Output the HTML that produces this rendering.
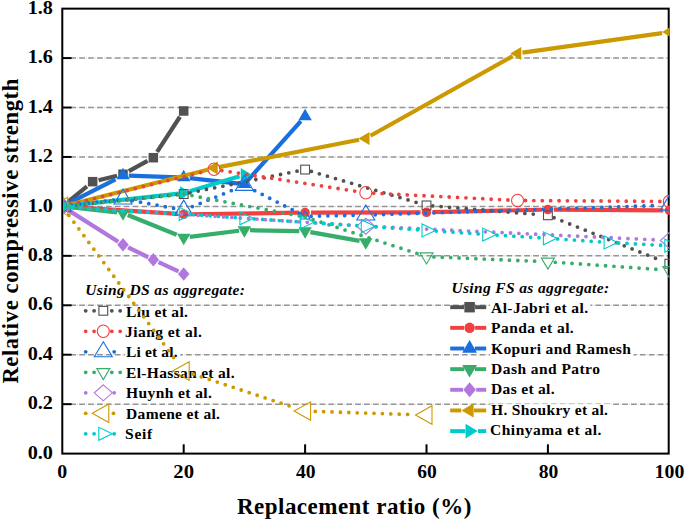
<!DOCTYPE html>
<html><head><meta charset="utf-8"><style>
html,body{margin:0;padding:0;background:#fff;width:685px;height:520px;overflow:hidden}
svg{display:block}
text{font-family:"Liberation Serif",serif;font-weight:bold;fill:#000}
</style></head><body>
<svg width="685" height="520" viewBox="0 0 685 520">
<defs><clipPath id="pc"><rect x="63.3" y="0" width="606.4" height="452.6"/></clipPath></defs>
<line x1="70.30" y1="404.16" x2="668.70" y2="404.16" stroke="#949494" stroke-width="1.45" stroke-dasharray="5.8 1.4 0.3 1.4"/>
<line x1="70.30" y1="354.72" x2="668.70" y2="354.72" stroke="#949494" stroke-width="1.45" stroke-dasharray="5.8 1.4 0.3 1.4"/>
<line x1="70.30" y1="305.28" x2="668.70" y2="305.28" stroke="#949494" stroke-width="1.45" stroke-dasharray="5.8 1.4 0.3 1.4"/>
<line x1="70.30" y1="255.84" x2="668.70" y2="255.84" stroke="#949494" stroke-width="1.45" stroke-dasharray="5.8 1.4 0.3 1.4"/>
<line x1="70.30" y1="206.40" x2="668.70" y2="206.40" stroke="#949494" stroke-width="1.45" stroke-dasharray="5.8 1.4 0.3 1.4"/>
<line x1="70.30" y1="156.96" x2="668.70" y2="156.96" stroke="#949494" stroke-width="1.45" stroke-dasharray="5.8 1.4 0.3 1.4"/>
<line x1="70.30" y1="107.52" x2="668.70" y2="107.52" stroke="#949494" stroke-width="1.45" stroke-dasharray="5.8 1.4 0.3 1.4"/>
<line x1="70.30" y1="58.08" x2="668.70" y2="58.08" stroke="#949494" stroke-width="1.45" stroke-dasharray="5.8 1.4 0.3 1.4"/>
<line x1="62.30" y1="404.16" x2="71.60" y2="404.16" stroke="#000" stroke-width="2"/>
<line x1="62.30" y1="354.72" x2="71.60" y2="354.72" stroke="#000" stroke-width="2"/>
<line x1="62.30" y1="305.28" x2="71.60" y2="305.28" stroke="#000" stroke-width="2"/>
<line x1="62.30" y1="255.84" x2="71.60" y2="255.84" stroke="#000" stroke-width="2"/>
<line x1="62.30" y1="206.40" x2="71.60" y2="206.40" stroke="#000" stroke-width="2"/>
<line x1="62.30" y1="156.96" x2="71.60" y2="156.96" stroke="#000" stroke-width="2"/>
<line x1="62.30" y1="107.52" x2="71.60" y2="107.52" stroke="#000" stroke-width="2"/>
<line x1="62.30" y1="58.08" x2="71.60" y2="58.08" stroke="#000" stroke-width="2"/>
<line x1="183.70" y1="453.60" x2="183.70" y2="444.30" stroke="#000" stroke-width="2"/>
<line x1="305.10" y1="453.60" x2="305.10" y2="444.30" stroke="#000" stroke-width="2"/>
<line x1="426.50" y1="453.60" x2="426.50" y2="444.30" stroke="#000" stroke-width="2"/>
<line x1="547.90" y1="453.60" x2="547.90" y2="444.30" stroke="#000" stroke-width="2"/>
<rect x="125.10" y="305.90" width="64.80" height="14.8" fill="#fff"/>
<rect x="125.10" y="326.30" width="78.80" height="14.8" fill="#fff"/>
<rect x="125.10" y="346.40" width="55.10" height="14.8" fill="#fff"/>
<rect x="125.10" y="366.70" width="111.70" height="14.8" fill="#fff"/>
<rect x="125.10" y="387.40" width="89.40" height="14.8" fill="#fff"/>
<rect x="125.10" y="407.70" width="96.90" height="14.8" fill="#fff"/>
<rect x="125.10" y="427.80" width="30.00" height="14.8" fill="#fff"/>
<rect x="490.10" y="302.30" width="100.20" height="14.8" fill="#fff"/>
<rect x="490.10" y="322.40" width="85.70" height="14.8" fill="#fff"/>
<rect x="490.10" y="343.30" width="143.40" height="14.8" fill="#fff"/>
<rect x="490.10" y="363.10" width="112.70" height="14.8" fill="#fff"/>
<rect x="490.10" y="383.20" width="66.80" height="14.8" fill="#fff"/>
<rect x="490.10" y="404.10" width="120.50" height="14.8" fill="#fff"/>
<rect x="490.10" y="424.10" width="113.60" height="14.8" fill="#fff"/>
<text x="85.20" y="295.40" font-size="15.5" font-style="italic" textLength="159.74" lengthAdjust="spacing">Using DS as aggregate:</text>
<text x="451.40" y="292.90" font-size="15.5" font-style="italic" textLength="157.78" lengthAdjust="spacing">Using FS as aggregate:</text>
<text x="126.10" y="316.70" font-size="15.5" textLength="61.80" lengthAdjust="spacing">Liu et al.</text>
<text x="125.10" y="337.10" font-size="15.5" textLength="76.71" lengthAdjust="spacing">Jiang et al.</text>
<text x="126.10" y="357.20" font-size="15.5" textLength="51.47" lengthAdjust="spacing">Li et al.</text>
<text x="126.10" y="377.50" font-size="15.5" textLength="108.48" lengthAdjust="spacing">El-Hassan et al.</text>
<text x="126.10" y="398.20" font-size="15.5" textLength="85.79" lengthAdjust="spacing">Huynh et al.</text>
<text x="126.10" y="418.50" font-size="15.5" textLength="93.87" lengthAdjust="spacing">Damene et al.</text>
<text x="125.10" y="438.60" font-size="15.5" textLength="26.97" lengthAdjust="spacing">Seif</text>
<text x="491.10" y="313.10" font-size="15.5" textLength="96.90" lengthAdjust="spacing">Al-Jabri et al.</text>
<text x="491.10" y="333.20" font-size="15.5" textLength="82.64" lengthAdjust="spacing">Panda et al.</text>
<text x="491.10" y="354.10" font-size="15.5" textLength="139.77" lengthAdjust="spacing">Kopuri and Ramesh</text>
<text x="491.10" y="373.90" font-size="15.5" textLength="108.78" lengthAdjust="spacing">Dash and Patro</text>
<text x="491.10" y="394.00" font-size="15.5" textLength="63.50" lengthAdjust="spacing">Das et al.</text>
<text x="491.10" y="414.90" font-size="15.5" textLength="116.89" lengthAdjust="spacing">H. Shoukry et al.</text>
<text x="490.10" y="434.90" font-size="15.5" textLength="111.23" lengthAdjust="spacing">Chinyama et al.</text>
<rect x="62.30" y="8.64" width="606.40" height="444.96" fill="none" stroke="#000" stroke-width="2"/>
<g clip-path="url(#pc)">
<line x1="67.98" y1="201.77" x2="86.97" y2="186.31" stroke="#515151" stroke-width="4.2"/>
<line x1="98.57" y1="180.23" x2="117.08" y2="175.71" stroke="#515151" stroke-width="4.2"/>
<line x1="128.80" y1="171.10" x2="147.55" y2="160.87" stroke="#515151" stroke-width="4.2"/>
<line x1="157.09" y1="151.95" x2="179.96" y2="116.74" stroke="#515151" stroke-width="4.2"/>
<rect x="57.55" y="201.65" width="9.50" height="9.50" fill="#515151"/>
<rect x="87.90" y="176.93" width="9.50" height="9.50" fill="#515151"/>
<rect x="118.25" y="169.51" width="9.50" height="9.50" fill="#515151"/>
<rect x="148.60" y="152.95" width="9.50" height="9.50" fill="#515151"/>
<rect x="178.95" y="106.23" width="9.50" height="9.50" fill="#515151"/>
<line x1="68.24" y1="206.79" x2="177.76" y2="213.92" stroke="#F14040" stroke-width="4.2"/>
<line x1="189.65" y1="214.23" x2="299.15" y2="212.66" stroke="#F14040" stroke-width="4.2"/>
<line x1="311.05" y1="212.57" x2="420.55" y2="212.34" stroke="#F14040" stroke-width="4.2"/>
<line x1="432.45" y1="212.20" x2="541.95" y2="209.75" stroke="#F14040" stroke-width="4.2"/>
<line x1="553.85" y1="209.65" x2="663.35" y2="210.32" stroke="#F14040" stroke-width="4.2"/>
<ellipse cx="62.30" cy="206.40" rx="4.75" ry="4.75" fill="#F14040"/>
<ellipse cx="183.70" cy="214.31" rx="4.75" ry="4.75" fill="#F14040"/>
<ellipse cx="305.10" cy="212.58" rx="4.75" ry="4.75" fill="#F14040"/>
<ellipse cx="426.50" cy="212.33" rx="4.75" ry="4.75" fill="#F14040"/>
<ellipse cx="547.90" cy="209.61" rx="4.75" ry="4.75" fill="#F14040"/>
<ellipse cx="669.30" cy="210.36" rx="4.75" ry="4.75" fill="#F14040"/>
<line x1="66.83" y1="204.09" x2="115.51" y2="179.31" stroke="#1A6FDF" stroke-width="4.2"/>
<line x1="128.79" y1="175.69" x2="178.09" y2="177.29" stroke="#1A6FDF" stroke-width="4.2"/>
<line x1="189.70" y1="178.14" x2="238.98" y2="183.56" stroke="#1A6FDF" stroke-width="4.2"/>
<line x1="247.92" y1="180.22" x2="300.86" y2="121.15" stroke="#1A6FDF" stroke-width="4.2"/>
<path d="M62.30 198.73L69.05 210.23L55.55 210.23Z" fill="#1A6FDF"/>
<path d="M123.00 167.83L129.75 179.33L116.25 179.33Z" fill="#1A6FDF"/>
<path d="M183.70 169.81L190.45 181.31L176.95 181.31Z" fill="#1A6FDF"/>
<path d="M244.40 176.49L251.15 187.99L237.65 187.99Z" fill="#1A6FDF"/>
<path d="M305.10 108.75L311.85 120.25L298.35 120.25Z" fill="#1A6FDF"/>
<line x1="67.72" y1="207.00" x2="117.00" y2="212.41" stroke="#37AD6B" stroke-width="4.2"/>
<line x1="127.75" y1="214.99" x2="176.69" y2="234.72" stroke="#37AD6B" stroke-width="4.2"/>
<line x1="189.74" y1="236.81" x2="239.01" y2="230.79" stroke="#37AD6B" stroke-width="4.2"/>
<line x1="250.06" y1="230.22" x2="299.36" y2="231.03" stroke="#37AD6B" stroke-width="4.2"/>
<line x1="310.35" y1="232.06" x2="359.59" y2="240.88" stroke="#37AD6B" stroke-width="4.2"/>
<path d="M62.30 214.07L69.05 202.57L55.55 202.57Z" fill="#37AD6B"/>
<path d="M123.00 220.74L129.75 209.24L116.25 209.24Z" fill="#37AD6B"/>
<path d="M183.70 245.21L190.45 233.71L176.95 233.71Z" fill="#37AD6B"/>
<path d="M244.40 237.80L251.15 226.30L237.65 226.30Z" fill="#37AD6B"/>
<path d="M305.10 238.79L311.85 227.29L298.35 227.29Z" fill="#37AD6B"/>
<path d="M365.80 249.66L372.55 238.16L359.05 238.16Z" fill="#37AD6B"/>
<line x1="67.05" y1="209.40" x2="118.25" y2="241.72" stroke="#B177DE" stroke-width="4.2"/>
<line x1="128.11" y1="247.26" x2="148.24" y2="257.25" stroke="#B177DE" stroke-width="4.2"/>
<line x1="158.56" y1="262.21" x2="178.49" y2="271.47" stroke="#B177DE" stroke-width="4.2"/>
<path d="M62.30 199.65L68.05 206.40L62.30 213.15L56.55 206.40Z" fill="#B177DE"/>
<path d="M123.00 237.97L128.75 244.72L123.00 251.47L117.25 244.72Z" fill="#B177DE"/>
<path d="M153.35 253.05L159.10 259.80L153.35 266.55L147.60 259.80Z" fill="#B177DE"/>
<path d="M183.70 267.14L189.45 273.89L183.70 280.64L177.95 273.89Z" fill="#B177DE"/>
<line x1="67.13" y1="205.18" x2="207.75" y2="169.68" stroke="#CC9900" stroke-width="4.2"/>
<line x1="218.89" y1="167.14" x2="359.11" y2="139.73" stroke="#CC9900" stroke-width="4.2"/>
<line x1="370.51" y1="135.78" x2="512.74" y2="56.08" stroke="#CC9900" stroke-width="4.2"/>
<line x1="522.41" y1="52.70" x2="662.18" y2="33.12" stroke="#CC9900" stroke-width="4.2"/>
<path d="M54.97 206.40L65.97 199.90L65.97 212.90Z" fill="#CC9900"/>
<path d="M206.72 168.08L217.72 161.58L217.72 174.58Z" fill="#CC9900"/>
<path d="M358.47 138.42L369.47 131.92L369.47 144.92Z" fill="#CC9900"/>
<path d="M510.22 53.38L521.22 46.88L521.22 59.88Z" fill="#CC9900"/>
<path d="M661.97 32.12L672.97 25.62L672.97 38.62Z" fill="#CC9900"/>
<line x1="69.71" y1="205.59" x2="178.84" y2="193.59" stroke="#00CBCC" stroke-width="4.2"/>
<line x1="189.77" y1="191.22" x2="239.58" y2="176.21" stroke="#00CBCC" stroke-width="4.2"/>
<path d="M69.63 206.40L58.63 199.65L58.63 213.15Z" fill="#00CBCC"/>
<path d="M191.03 193.05L180.03 186.30L180.03 199.80Z" fill="#00CBCC"/>
<path d="M251.73 174.76L240.73 168.01L240.73 181.51Z" fill="#00CBCC"/>
<line x1="68.59" y1="205.76" x2="177.41" y2="194.68" stroke="#515151" stroke-width="3.8" stroke-linecap="round" stroke-dasharray="0 8.4"/>
<line x1="189.96" y1="192.78" x2="298.84" y2="170.83" stroke="#515151" stroke-width="3.8" stroke-linecap="round" stroke-dasharray="0 8.4"/>
<line x1="311.32" y1="171.40" x2="420.28" y2="203.57" stroke="#515151" stroke-width="3.8" stroke-linecap="round" stroke-dasharray="0 8.4"/>
<line x1="432.79" y1="205.92" x2="541.61" y2="214.79" stroke="#515151" stroke-width="3.8" stroke-linecap="round" stroke-dasharray="0 8.4"/>
<line x1="554.06" y1="217.76" x2="663.14" y2="261.29" stroke="#515151" stroke-width="3.8" stroke-linecap="round" stroke-dasharray="0 8.4"/>
<rect x="57.90" y="202.00" width="8.80" height="8.80" fill="none" stroke="#515151" stroke-width="1.1"/>
<rect x="179.30" y="189.64" width="8.80" height="8.80" fill="none" stroke="#515151" stroke-width="1.1"/>
<rect x="300.70" y="165.17" width="8.80" height="8.80" fill="none" stroke="#515151" stroke-width="1.1"/>
<rect x="422.10" y="201.01" width="8.80" height="8.80" fill="none" stroke="#515151" stroke-width="1.1"/>
<rect x="543.50" y="210.90" width="8.80" height="8.80" fill="none" stroke="#515151" stroke-width="1.1"/>
<rect x="664.90" y="259.35" width="8.80" height="8.80" fill="none" stroke="#515151" stroke-width="1.1"/>
<line x1="69.99" y1="204.52" x2="206.36" y2="171.20" stroke="#F14040" stroke-width="3.8" stroke-linecap="round" stroke-dasharray="0 8.4"/>
<line x1="221.86" y1="170.53" x2="357.99" y2="191.59" stroke="#F14040" stroke-width="3.8" stroke-linecap="round" stroke-dasharray="0 8.4"/>
<line x1="373.69" y1="193.20" x2="509.66" y2="200.07" stroke="#F14040" stroke-width="3.8" stroke-linecap="round" stroke-dasharray="0 8.4"/>
<line x1="525.45" y1="200.52" x2="661.40" y2="201.40" stroke="#F14040" stroke-width="3.8" stroke-linecap="round" stroke-dasharray="0 8.4"/>
<ellipse cx="62.30" cy="206.40" rx="6.00" ry="6.25" fill="none" stroke="#F14040" stroke-width="1.1"/>
<ellipse cx="214.05" cy="169.32" rx="6.00" ry="6.25" fill="none" stroke="#F14040" stroke-width="1.1"/>
<ellipse cx="365.80" cy="192.80" rx="6.00" ry="6.25" fill="none" stroke="#F14040" stroke-width="1.1"/>
<ellipse cx="517.55" cy="200.47" rx="6.00" ry="6.25" fill="none" stroke="#F14040" stroke-width="1.1"/>
<ellipse cx="669.30" cy="201.46" rx="6.00" ry="6.25" fill="none" stroke="#F14040" stroke-width="1.1"/>
<line x1="71.63" y1="205.26" x2="113.67" y2="200.12" stroke="#1A6FDF" stroke-width="3.8" stroke-linecap="round" stroke-dasharray="0 8.4"/>
<line x1="132.25" y1="200.68" x2="174.45" y2="208.41" stroke="#1A6FDF" stroke-width="3.8" stroke-linecap="round" stroke-dasharray="0 8.4"/>
<line x1="192.41" y1="206.56" x2="234.70" y2="189.34" stroke="#1A6FDF" stroke-width="3.8" stroke-linecap="round" stroke-dasharray="0 8.4"/>
<line x1="254.73" y1="190.65" x2="299.73" y2="213.55" stroke="#1A6FDF" stroke-width="3.8" stroke-linecap="round" stroke-dasharray="0 8.4"/>
<line x1="311.12" y1="216.17" x2="356.40" y2="215.24" stroke="#1A6FDF" stroke-width="3.8" stroke-linecap="round" stroke-dasharray="0 8.4"/>
<line x1="375.20" y1="214.75" x2="659.90" y2="205.47" stroke="#1A6FDF" stroke-width="3.8" stroke-linecap="round" stroke-dasharray="0 8.4"/>
<path d="M62.30 196.40L71.30 211.40L53.30 211.40Z" fill="none" stroke="#1A6FDF" stroke-width="1.1"/>
<path d="M123.00 188.98L132.00 203.98L114.00 203.98Z" fill="none" stroke="#1A6FDF" stroke-width="1.1"/>
<path d="M183.70 200.11L192.70 215.11L174.70 215.11Z" fill="none" stroke="#1A6FDF" stroke-width="1.1"/>
<path d="M244.40 175.39L253.40 190.39L235.40 190.39Z" fill="none" stroke="#1A6FDF" stroke-width="1.1"/>
<path d="M305.10 210.79L310.05 219.04L300.15 219.04Z" fill="none" stroke="#1A6FDF" stroke-width="1.1"/>
<path d="M365.80 205.05L374.80 220.05L356.80 220.05Z" fill="none" stroke="#1A6FDF" stroke-width="1.1"/>
<path d="M669.30 195.16L678.30 210.16L660.30 210.16Z" fill="none" stroke="#1A6FDF" stroke-width="1.1"/>
<line x1="69.66" y1="205.65" x2="183.70" y2="194.04" stroke="#37AD6B" stroke-width="3.8" stroke-linecap="round" stroke-dasharray="0 8.4"/>
<line x1="183.70" y1="194.04" x2="305.10" y2="217.03" stroke="#37AD6B" stroke-width="3.8" stroke-linecap="round" stroke-dasharray="0 8.4"/>
<line x1="305.10" y1="217.03" x2="419.33" y2="254.24" stroke="#37AD6B" stroke-width="3.8" stroke-linecap="round" stroke-dasharray="0 8.4"/>
<line x1="433.89" y1="256.90" x2="540.51" y2="261.46" stroke="#37AD6B" stroke-width="3.8" stroke-linecap="round" stroke-dasharray="0 8.4"/>
<line x1="555.28" y1="262.28" x2="661.92" y2="269.67" stroke="#37AD6B" stroke-width="3.8" stroke-linecap="round" stroke-dasharray="0 8.4"/>
<path d="M62.30 213.73L68.80 202.73L55.80 202.73Z" fill="none" stroke="#37AD6B" stroke-width="1.1"/>
<path d="M426.50 263.91L433.00 252.91L420.00 252.91Z" fill="none" stroke="#37AD6B" stroke-width="1.1"/>
<path d="M547.90 269.11L554.40 258.11L541.40 258.11Z" fill="none" stroke="#37AD6B" stroke-width="1.1"/>
<path d="M669.30 277.51L675.80 266.51L662.80 266.51Z" fill="none" stroke="#37AD6B" stroke-width="1.1"/>
<line x1="72.58" y1="207.07" x2="355.52" y2="225.51" stroke="#B177DE" stroke-width="3.8" stroke-linecap="round" stroke-dasharray="0 8.4"/>
<line x1="376.24" y1="226.67" x2="658.86" y2="240.02" stroke="#B177DE" stroke-width="3.8" stroke-linecap="round" stroke-dasharray="0 8.4"/>
<path d="M62.30 198.40L71.30 206.40L62.30 214.40L53.30 206.40Z" fill="none" stroke="#B177DE" stroke-width="1.1"/>
<path d="M365.80 218.18L374.80 226.18L365.80 234.18L356.80 226.18Z" fill="none" stroke="#B177DE" stroke-width="1.1"/>
<path d="M669.30 232.51L678.30 240.51L669.30 248.51L660.30 240.51Z" fill="none" stroke="#B177DE" stroke-width="1.1"/>
<line x1="68.93" y1="215.39" x2="177.68" y2="362.87" stroke="#CC9900" stroke-width="3.8" stroke-linecap="round" stroke-dasharray="0 8.4"/>
<line x1="193.34" y1="374.21" x2="295.46" y2="407.90" stroke="#CC9900" stroke-width="3.8" stroke-linecap="round" stroke-dasharray="0 8.4"/>
<line x1="315.24" y1="411.41" x2="414.21" y2="414.64" stroke="#CC9900" stroke-width="3.8" stroke-linecap="round" stroke-dasharray="0 8.4"/>
<path d="M51.30 206.40L67.80 197.15L67.80 215.65Z" fill="none" stroke="#CC9900" stroke-width="1.1"/>
<path d="M172.70 371.04L189.20 361.79L189.20 380.29Z" fill="none" stroke="#CC9900" stroke-width="1.1"/>
<path d="M294.10 411.08L310.60 401.83L310.60 420.33Z" fill="none" stroke="#CC9900" stroke-width="1.1"/>
<path d="M415.50 415.04L432.00 405.79L432.00 424.29Z" fill="none" stroke="#CC9900" stroke-width="1.1"/>
<line x1="71.89" y1="207.18" x2="123.00" y2="211.34" stroke="#00CBCC" stroke-width="3.8" stroke-linecap="round" stroke-dasharray="0 8.4"/>
<line x1="123.00" y1="211.34" x2="175.31" y2="213.47" stroke="#00CBCC" stroke-width="3.8" stroke-linecap="round" stroke-dasharray="0 8.4"/>
<line x1="193.41" y1="214.53" x2="236.02" y2="217.65" stroke="#00CBCC" stroke-width="3.8" stroke-linecap="round" stroke-dasharray="0 8.4"/>
<line x1="254.22" y1="218.91" x2="296.72" y2="221.67" stroke="#00CBCC" stroke-width="3.8" stroke-linecap="round" stroke-dasharray="0 8.4"/>
<line x1="314.92" y1="222.86" x2="357.42" y2="225.63" stroke="#00CBCC" stroke-width="3.8" stroke-linecap="round" stroke-dasharray="0 8.4"/>
<line x1="375.56" y1="226.85" x2="418.12" y2="229.80" stroke="#00CBCC" stroke-width="3.8" stroke-linecap="round" stroke-dasharray="0 8.4"/>
<line x1="436.26" y1="231.05" x2="478.82" y2="234.00" stroke="#00CBCC" stroke-width="3.8" stroke-linecap="round" stroke-dasharray="0 8.4"/>
<line x1="497.08" y1="235.18" x2="539.52" y2="237.78" stroke="#00CBCC" stroke-width="3.8" stroke-linecap="round" stroke-dasharray="0 8.4"/>
<line x1="557.66" y1="238.96" x2="600.22" y2="241.91" stroke="#00CBCC" stroke-width="3.8" stroke-linecap="round" stroke-dasharray="0 8.4"/>
<line x1="618.61" y1="243.02" x2="660.91" y2="245.26" stroke="#00CBCC" stroke-width="3.8" stroke-linecap="round" stroke-dasharray="0 8.4"/>
<path d="M71.30 206.40L57.80 199.90L57.80 212.90Z" fill="none" stroke="#00CBCC" stroke-width="1.1"/>
<path d="M192.70 213.82L179.20 207.32L179.20 220.32Z" fill="none" stroke="#00CBCC" stroke-width="1.1"/>
<path d="M253.40 218.27L239.90 211.77L239.90 224.77Z" fill="none" stroke="#00CBCC" stroke-width="1.1"/>
<path d="M314.10 222.22L300.60 215.72L300.60 228.72Z" fill="none" stroke="#00CBCC" stroke-width="1.1"/>
<path d="M374.80 226.18L361.30 219.68L361.30 232.68Z" fill="none" stroke="#00CBCC" stroke-width="1.1"/>
<path d="M435.50 230.38L422.00 223.88L422.00 236.88Z" fill="none" stroke="#00CBCC" stroke-width="1.1"/>
<path d="M496.20 234.58L482.70 228.08L482.70 241.08Z" fill="none" stroke="#00CBCC" stroke-width="1.1"/>
<path d="M556.90 238.29L543.40 231.79L543.40 244.79Z" fill="none" stroke="#00CBCC" stroke-width="1.1"/>
<path d="M617.60 242.49L604.10 235.99L604.10 248.99Z" fill="none" stroke="#00CBCC" stroke-width="1.1"/>
<path d="M678.30 245.70L664.80 239.20L664.80 252.20Z" fill="none" stroke="#00CBCC" stroke-width="1.1"/>
</g>
<line x1="85.7" y1="310.80" x2="95.30" y2="310.80" stroke="#515151" stroke-width="3.8" stroke-linecap="round" stroke-dasharray="0 8.4"/>
<line x1="111.80" y1="310.80" x2="121.2" y2="310.80" stroke="#515151" stroke-width="3.8" stroke-linecap="round" stroke-dasharray="0 8.4"/>
<rect x="98.90" y="306.40" width="8.80" height="8.80" fill="none" stroke="#515151" stroke-width="1.1"/>
<line x1="85.7" y1="331.30" x2="95.30" y2="331.30" stroke="#F14040" stroke-width="3.8" stroke-linecap="round" stroke-dasharray="0 8.4"/>
<line x1="111.80" y1="331.30" x2="121.2" y2="331.30" stroke="#F14040" stroke-width="3.8" stroke-linecap="round" stroke-dasharray="0 8.4"/>
<ellipse cx="103.30" cy="331.30" rx="6.00" ry="6.25" fill="none" stroke="#F14040" stroke-width="1.1"/>
<line x1="85.7" y1="351.80" x2="92.40" y2="351.80" stroke="#1A6FDF" stroke-width="3.8" stroke-linecap="round" stroke-dasharray="0 8.4"/>
<line x1="114.20" y1="351.80" x2="121.2" y2="351.80" stroke="#1A6FDF" stroke-width="3.8" stroke-linecap="round" stroke-dasharray="0 8.4"/>
<path d="M103.30 341.80L112.30 356.80L94.30 356.80Z" fill="none" stroke="#1A6FDF" stroke-width="1.1"/>
<line x1="85.7" y1="372.30" x2="94.90" y2="372.30" stroke="#37AD6B" stroke-width="3.8" stroke-linecap="round" stroke-dasharray="0 8.4"/>
<line x1="111.80" y1="372.30" x2="121.2" y2="372.30" stroke="#37AD6B" stroke-width="3.8" stroke-linecap="round" stroke-dasharray="0 8.4"/>
<path d="M103.30 379.63L109.80 368.63L96.80 368.63Z" fill="none" stroke="#37AD6B" stroke-width="1.1"/>
<line x1="85.7" y1="392.80" x2="92.40" y2="392.80" stroke="#B177DE" stroke-width="3.8" stroke-linecap="round" stroke-dasharray="0 8.4"/>
<line x1="114.20" y1="392.80" x2="121.2" y2="392.80" stroke="#B177DE" stroke-width="3.8" stroke-linecap="round" stroke-dasharray="0 8.4"/>
<path d="M103.30 384.80L112.30 392.80L103.30 400.80L94.30 392.80Z" fill="none" stroke="#B177DE" stroke-width="1.1"/>
<line x1="85.7" y1="413.30" x2="90.40" y2="413.30" stroke="#CC9900" stroke-width="3.8" stroke-linecap="round" stroke-dasharray="0 8.4"/>
<line x1="113.45" y1="413.30" x2="121.2" y2="413.30" stroke="#CC9900" stroke-width="3.8" stroke-linecap="round" stroke-dasharray="0 8.4"/>
<path d="M92.30 413.30L108.80 404.05L108.80 422.55Z" fill="none" stroke="#CC9900" stroke-width="1.1"/>
<line x1="85.7" y1="433.80" x2="94.65" y2="433.80" stroke="#00CBCC" stroke-width="3.8" stroke-linecap="round" stroke-dasharray="0 8.4"/>
<line x1="114.20" y1="433.80" x2="121.2" y2="433.80" stroke="#00CBCC" stroke-width="3.8" stroke-linecap="round" stroke-dasharray="0 8.4"/>
<path d="M112.30 433.80L98.80 427.30L98.80 440.30Z" fill="none" stroke="#00CBCC" stroke-width="1.1"/>
<line x1="450.2" y1="307.20" x2="464.07" y2="307.20" stroke="#515151" stroke-width="3.9"/>
<line x1="475.13" y1="307.20" x2="486.2" y2="307.20" stroke="#515151" stroke-width="3.9"/>
<rect x="464.38" y="301.97" width="10.45" height="10.45" fill="#515151"/>
<line x1="450.2" y1="327.85" x2="464.07" y2="327.85" stroke="#F14040" stroke-width="3.9"/>
<line x1="475.13" y1="327.85" x2="486.2" y2="327.85" stroke="#F14040" stroke-width="3.9"/>
<ellipse cx="469.60" cy="327.85" rx="5.23" ry="5.23" fill="#F14040"/>
<line x1="450.2" y1="348.50" x2="464.35" y2="348.50" stroke="#1A6FDF" stroke-width="3.9"/>
<line x1="474.85" y1="348.50" x2="486.2" y2="348.50" stroke="#1A6FDF" stroke-width="3.9"/>
<path d="M469.60 340.07L477.03 352.72L462.18 352.72Z" fill="#1A6FDF"/>
<line x1="450.2" y1="369.15" x2="464.35" y2="369.15" stroke="#37AD6B" stroke-width="3.9"/>
<line x1="474.85" y1="369.15" x2="486.2" y2="369.15" stroke="#37AD6B" stroke-width="3.9"/>
<path d="M469.60 377.58L477.03 364.93L462.18 364.93Z" fill="#37AD6B"/>
<line x1="450.2" y1="389.80" x2="462.98" y2="389.80" stroke="#B177DE" stroke-width="3.9"/>
<line x1="476.23" y1="389.80" x2="486.2" y2="389.80" stroke="#B177DE" stroke-width="3.9"/>
<path d="M469.60 382.37L475.93 389.80L469.60 397.22L463.28 389.80Z" fill="#B177DE"/>
<line x1="450.2" y1="410.45" x2="461.23" y2="410.45" stroke="#CC9900" stroke-width="3.9"/>
<line x1="473.93" y1="410.45" x2="486.2" y2="410.45" stroke="#CC9900" stroke-width="3.9"/>
<path d="M461.53 410.45L473.63 403.30L473.63 417.60Z" fill="#CC9900"/>
<line x1="450.2" y1="431.10" x2="465.27" y2="431.10" stroke="#00CBCC" stroke-width="3.9"/>
<line x1="477.97" y1="431.10" x2="486.2" y2="431.10" stroke="#00CBCC" stroke-width="3.9"/>
<path d="M477.67 431.10L465.57 423.67L465.57 438.52Z" fill="#00CBCC"/>
<text x="237.00" y="513.80" font-size="23" textLength="234.31" lengthAdjust="spacing">Replacement ratio (%)</text>
<text transform="translate(18.20,383.60) rotate(-90)" x="0" y="0" font-size="22.5" textLength="304.83" lengthAdjust="spacing">Relative compressive strength</text>
<text x="27.71" y="458.80" font-size="18.5" textLength="25.23" lengthAdjust="spacingAndGlyphs">0.0</text>
<text x="27.71" y="409.36" font-size="18.5" textLength="25.23" lengthAdjust="spacingAndGlyphs">0.2</text>
<text x="27.71" y="359.92" font-size="18.5" textLength="25.23" lengthAdjust="spacingAndGlyphs">0.4</text>
<text x="27.71" y="310.48" font-size="18.5" textLength="25.23" lengthAdjust="spacingAndGlyphs">0.6</text>
<text x="27.71" y="261.04" font-size="18.5" textLength="25.23" lengthAdjust="spacingAndGlyphs">0.8</text>
<text x="27.71" y="211.60" font-size="18.5" textLength="25.23" lengthAdjust="spacingAndGlyphs">1.0</text>
<text x="27.71" y="162.16" font-size="18.5" textLength="25.23" lengthAdjust="spacingAndGlyphs">1.2</text>
<text x="27.71" y="112.72" font-size="18.5" textLength="25.23" lengthAdjust="spacingAndGlyphs">1.4</text>
<text x="27.71" y="63.28" font-size="18.5" textLength="25.23" lengthAdjust="spacingAndGlyphs">1.6</text>
<text x="27.71" y="13.84" font-size="18.5" textLength="25.23" lengthAdjust="spacingAndGlyphs">1.8</text>
<text x="57.22" y="478.20" font-size="18.5" textLength="9.94" lengthAdjust="spacingAndGlyphs">0</text>
<text x="173.38" y="478.20" font-size="18.5" textLength="20.68" lengthAdjust="spacingAndGlyphs">20</text>
<text x="295.90" y="478.20" font-size="18.5" textLength="19.53" lengthAdjust="spacingAndGlyphs">40</text>
<text x="417.30" y="478.20" font-size="18.5" textLength="19.53" lengthAdjust="spacingAndGlyphs">60</text>
<text x="538.70" y="478.20" font-size="18.5" textLength="19.53" lengthAdjust="spacingAndGlyphs">80</text>
<text x="654.63" y="478.20" font-size="18.5" textLength="29.67" lengthAdjust="spacingAndGlyphs">100</text>
</svg>
</body></html>
